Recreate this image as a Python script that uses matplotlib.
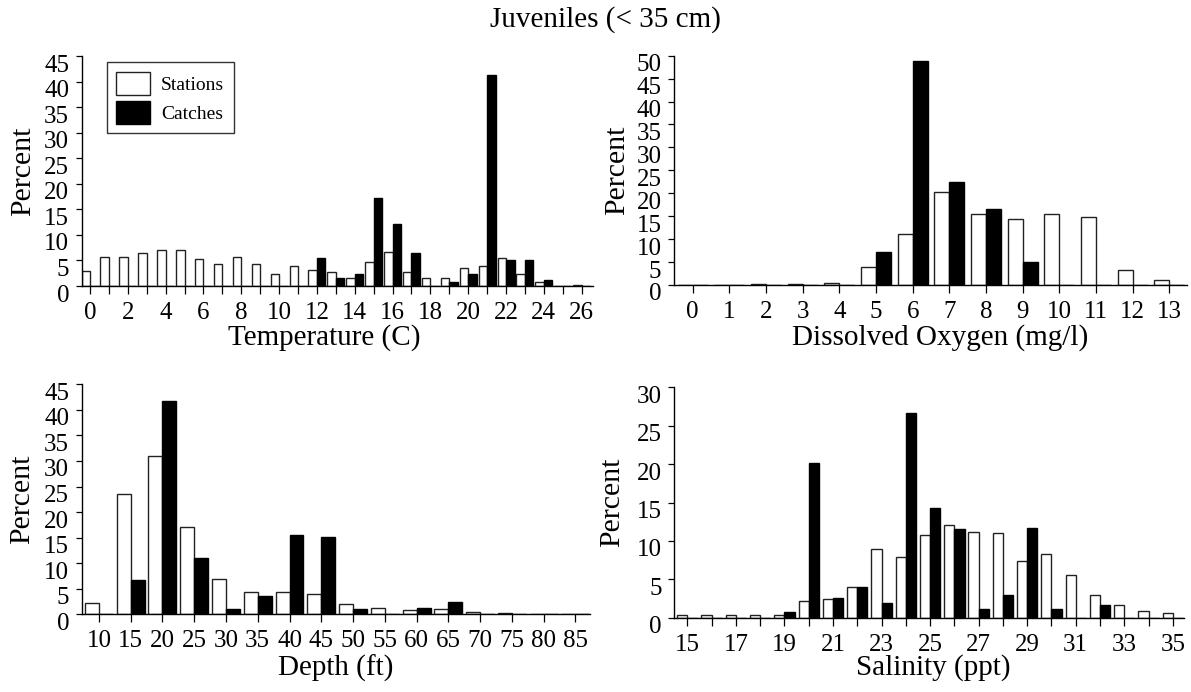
import matplotlib
matplotlib.use("Agg")
import matplotlib.pyplot as plt
import numpy as np
from matplotlib.transforms import ScaledTranslation

plt.rcParams['font.family'] = ['Liberation Serif', 'DejaVu Serif']

# ---------------- data ----------------
temp_values = list(range(0, 27))
temp_stations = [2.9, 5.7, 5.7, 6.4, 7.0, 7.0, 5.3, 4.4, 5.7, 4.4, 2.4, 4.0, 3.2, 2.7,
                 1.6, 4.7, 6.6, 2.7, 1.6, 1.6, 3.6, 4.0, 5.5, 2.3, 0.7, 0.0, 0.1]
temp_catches = [0, 0, 0, 0, 0, 0, 0, 0, 0, 0, 0, 0, 5.5, 1.6,
                2.3, 17.3, 12.1, 6.4, 0.0, 0.8, 2.3, 41.2, 5.1, 5.1, 1.2, 0.0, 0.0]
temp_ticklabels = [str(v) if v % 2 == 0 else "" for v in temp_values]

do_values = list(range(0, 14))
do_stations = [0.0, 0.0, 0.2, 0.2, 0.5, 3.9, 11.1, 20.3, 15.4, 14.3, 15.4, 14.9, 3.2, 1.0]
do_catches = [0.0, 0.0, 0.0, 0.0, 0.0, 7.3, 48.9, 22.5, 16.6, 5.0, 0.0, 0.0, 0.0, 0.0]

depth_categories = ["10", "15", "20", "25", "30", "35", "40", "45",
                    "50", "55", "60", "65", "70", "75", "80", "85"]
depth_stations = [2.2, 23.6, 31.0, 17.0, 7.0, 4.4, 4.4, 3.9, 2.0, 1.3, 0.9, 1.1, 0.5, 0.3, 0.0, 0.1]
depth_catches = [0.0, 6.8, 41.7, 11.0, 1.1, 3.5, 15.5, 15.1, 1.1, 0.0, 1.3, 2.4, 0.0, 0.0, 0.0, 0.0]

sal_values = list(range(15, 36))
sal_stations = [0.3, 0.3, 0.3, 0.4, 0.4, 2.2, 2.5, 4.0, 9.0, 7.9, 10.8, 12.1, 11.2, 11.0,
                7.4, 8.3, 5.6, 2.9, 1.6, 0.9, 0.6]
sal_catches = [0.0, 0.0, 0.0, 0.0, 0.7, 20.2, 2.6, 4.0, 1.9, 26.6, 14.3, 11.5, 1.1, 2.9,
               11.7, 1.1, 0.0, 1.6, 0.0, 0.0, 0.0]
sal_ticklabels = [str(v) if v % 2 == 1 else "" for v in sal_values]

# ---------------- figure ----------------
W, H = 1191, 692
fig = plt.figure(figsize=(W / 100, H / 100), dpi=100)


def rect(left, top, right, bottom):
    return [left / W, 1 - bottom / H, (right - left) / W, (bottom - top) / H]


TICK_FS = 18
LAB_FS = 21
YLAB_FS = 21.5


def style(ax, ymax, ystep, xlim, xlab, xlab_pos, ylab_x):
    ax.set_xlim(*xlim)
    ax.set_ylim(0, ymax)
    for s in ("top", "right"):
        ax.spines[s].set_visible(False)
    for s in ("left", "bottom"):
        ax.spines[s].set_linewidth(1.0)
        ax.spines[s].set_color("black")
    ax.set_yticks(np.arange(0, ymax + 0.1, ystep))
    ax.tick_params(axis="y", direction="out", length=4, width=0.9, pad=5,
                   labelsize=TICK_FS)
    ax.tick_params(axis="x", direction="out", length=6, width=0.9, pad=5.5,
                   labelsize=TICK_FS)
    off = ScaledTranslation(0, -7 / 100, fig.dpi_scale_trans)
    for lab in ax.get_yticklabels():
        lab.set_transform(lab.get_transform() + off)
    ax.set_ylabel("Percent", fontsize=YLAB_FS, va="center")
    ax.yaxis.set_label_coords(ylab_x, 0.5)
    ax.set_xlabel(xlab, fontsize=LAB_FS, va="center")
    ax.xaxis.set_label_coords(*xlab_pos)


def bars(ax, x, st, ca, w):
    ax.bar(x, st, width=-w, align="edge", color="white", edgecolor="#222222",
           linewidth=1.0, label="Stations", zorder=2)
    ax.bar(x, ca, width=w, align="edge", color="black", edgecolor="black",
           linewidth=1.0, label="Catches", zorder=2)


# Temperature
ax_t = fig.add_axes(rect(81.7, 56, 593, 286))
bars(ax_t, temp_values, temp_stations, temp_catches, 0.45)
ax_t.set_xticks(temp_values)
ax_t.set_xticklabels(temp_ticklabels)
style(ax_t, 45, 5, (-0.44, 26.6), "Temperature (C)", (0.475, -0.222), -0.115)
leg = ax_t.legend(loc="upper left", bbox_to_anchor=(0.049, 0.974), fontsize=14,
                  frameon=True, fancybox=False, edgecolor="black",
                  handlelength=1.7, handleheight=1.45, borderpad=0.5,
                  labelspacing=0.3, handletextpad=0.6, borderaxespad=0)
leg.get_frame().set_linewidth(1.0)

# Dissolved oxygen
ax_o = fig.add_axes(rect(674, 55.7, 1186.7, 285))
bars(ax_o, do_values, do_stations, do_catches, 0.41)
ax_o.set_xticks(do_values)
ax_o.set_xticklabels([str(v) for v in do_values])
style(ax_o, 50, 5, (-0.51, 13.47), "Dissolved Oxygen (mg/l)", (0.52, -0.227), -0.111)

# Depth
ax_d = fig.add_axes(rect(81.6, 384.3, 590, 614.3))
dx = np.arange(len(depth_categories))
bars(ax_d, dx, depth_stations, depth_catches, 0.44)
ax_d.set_xticks(dx)
ax_d.set_xticklabels(depth_categories)
style(ax_d, 45, 5, (-0.545, 15.46), "Depth (ft)", (0.5, -0.233), -0.117)

# Salinity
ax_s = fig.add_axes(rect(674.3, 387.3, 1184.2, 617.7))
bars(ax_s, sal_values, sal_stations, sal_catches, 0.42)
ax_s.set_xticks(sal_values)
ax_s.set_xticklabels(sal_ticklabels)
style(ax_s, 30, 5, (14.46, 35.47), "Salinity (ppt)", (0.508, -0.218), -0.122)

fig.text(605 / W, 1 - 20 / H, "Juveniles (< 35 cm)", ha="center", va="center",
         fontsize=LAB_FS)

fig.savefig("out.png", dpi=100)
